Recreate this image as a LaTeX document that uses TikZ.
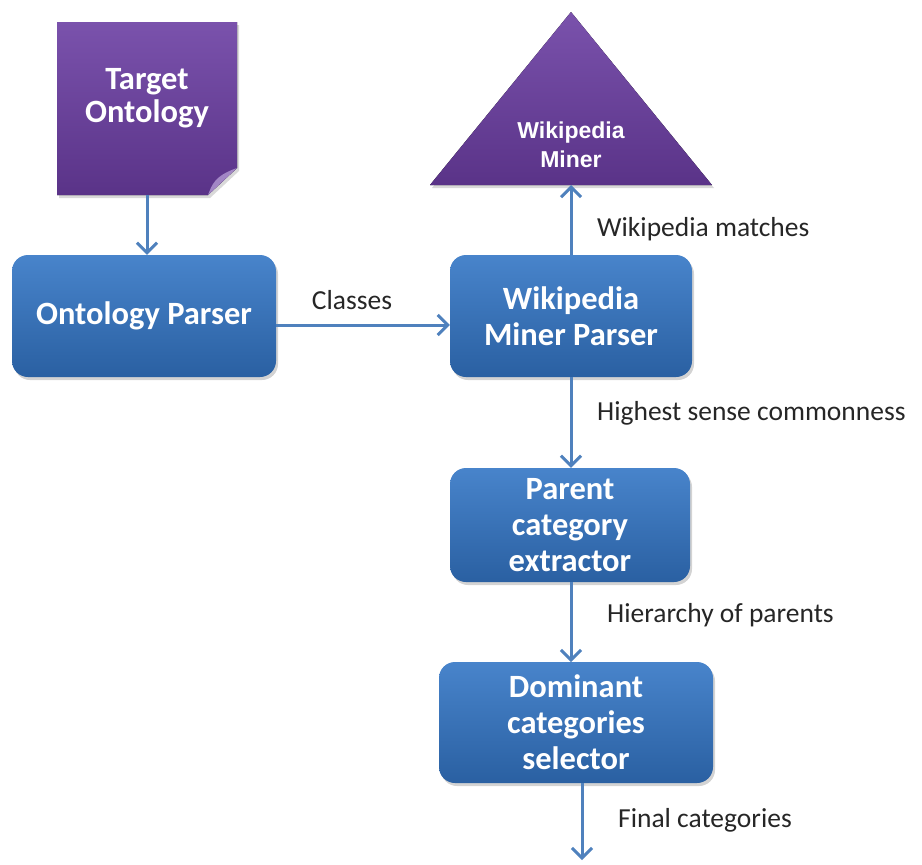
\documentclass[tikz,border=0pt]{standalone}
\usepackage{fontspec}
\setmainfont{Carlito}
\newfontfamily\arialfont{Liberation Sans}
\usetikzlibrary{arrows.meta,shadows}
\definecolor{boxtop}{HTML}{4884CB}
\definecolor{boxbot}{HTML}{2A60A2}
\definecolor{purtop}{HTML}{7A52AC}
\definecolor{purbot}{HTML}{5A3388}
\definecolor{arrowc}{HTML}{4F81BD}
\definecolor{labelc}{HTML}{262626}
\begin{document}
\begin{tikzpicture}[x=1pt,y=-1pt,
  procbox/.style={draw=none, rounded corners=16pt, top color=boxtop, bottom color=boxbot,
    text=white, font=\fontsize{32.5}{36}\selectfont\bfseries, align=center, inner sep=0pt,
    drop shadow={opacity=0.35, shadow xshift=2pt, shadow yshift=-3pt}},
  flow/.style={draw=arrowc, line width=3pt, -{Straight Barb[length=10pt,width=20pt]}},
  lbl/.style={text=labelc, font=\fontsize{27.5}{32}\selectfont, inner sep=0pt},
  purtext/.style={text=white, align=center, inner sep=0pt}]
\useasboundingbox (0,0) rectangle (922,865);

% Target Ontology (folded note)
\fill[top color=purtop, bottom color=purbot, drop shadow={opacity=0.3, shadow xshift=2pt, shadow yshift=-3pt}]
  (57,22) -- (237,22) -- (237,168) -- (208,195) -- (57,195) -- cycle;
\fill[purtop!70!white] (237,168) -- (208,195) .. controls (212,185) and (214,176) .. (237,168) -- cycle;
\node[purtext, font=\fontsize{32.5}{33}\selectfont\bfseries] (to) at (147,98) {Target\\Ontology};
\coordinate (tos) at (147,195);

% Wikipedia Miner triangle
\fill[top color=purtop, bottom color=purbot, drop shadow={opacity=0.3, shadow xshift=2pt, shadow yshift=-3pt}]
  (571,12) -- (712,185) -- (430,185) -- cycle;
\node[purtext, font=\fontsize{23}{29}\selectfont\arialfont\bfseries] (wm) at (571,145) {Wikipedia\\Miner};
\coordinate (wmb) at (571,185);

% process boxes
\node[procbox, minimum width=264pt, minimum height=122pt] (op) at (144,316) {Ontology Parser};
\node[procbox, minimum width=242pt, minimum height=122pt] (wmp) at (571,316) {Wikipedia\\Miner Parser};
\node[procbox, minimum width=240pt, minimum height=114pt] (pce) at (570,525) {Parent\\category\\extractor};
\node[procbox, minimum width=274pt, minimum height=121pt] (dcs) at (576,722.5) {Dominant\\categories\\selector};
\coordinate (dcsb) at (582,783);
\coordinate (fin) at (582,860);
\coordinate (dcst) at (571,662);

% connectors
\draw[flow] (tos) -- (tos |- op.north);
\draw[flow] (op.east |- 0,325) -- (wmp.west |- 0,325);
\draw[flow] (wmp.north) -- (wmb);
\draw[flow] (wmp.south) -- (pce.north -| wmp.south);
\draw[flow] (pce.south -| wmp.south) -- (dcst);
\draw[flow] (dcsb) -- (fin);

% labels
\node[lbl] (l1) at (352,300) {Classes};
\node[lbl, anchor=west] (l2) at (597,229) {Wikipedia matches};
\node[lbl, anchor=west] (l3) at (597,413) {Highest sense commonness};
\node[lbl, anchor=west] (l4) at (607,615) {Hierarchy of parents};
\node[lbl, anchor=west] (l5) at (618,820) {Final categories};
\end{tikzpicture}
\end{document}
